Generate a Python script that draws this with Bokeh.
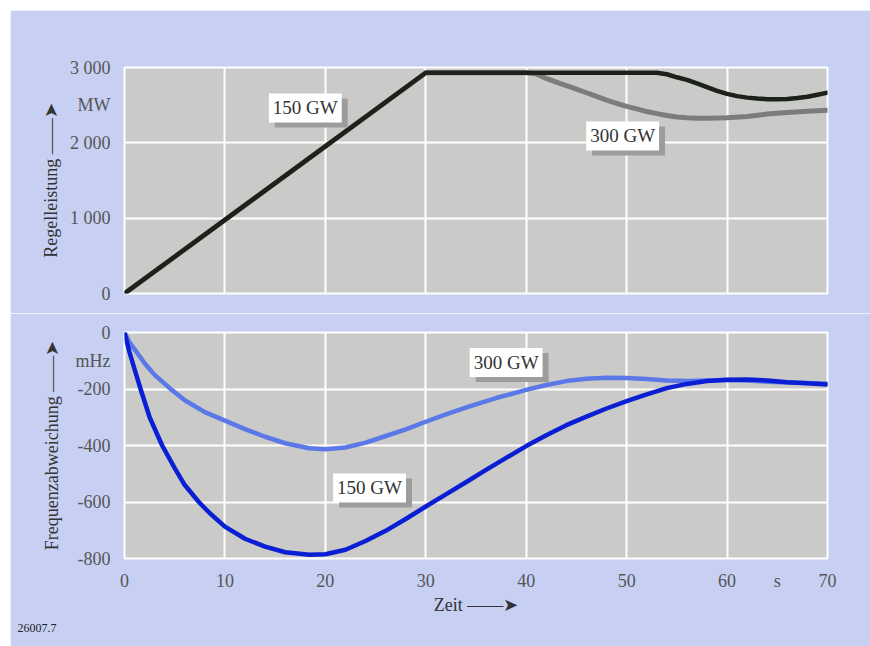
from bokeh.plotting import figure
from bokeh.models import Range1d, FixedTicker, Label, Spacer, Title
from bokeh.layouts import column, row
from bokeh.embed import file_html
from bokeh.resources import INLINE

# ---- data ----
t_p150 = [0, 30, 53, 54, 55, 56, 57, 58, 59, 60, 61, 62, 63, 64, 65, 66, 67, 68, 69, 70]
p_150 = [0, 2930, 2930, 2910, 2870, 2835, 2790, 2740, 2690, 2650, 2620, 2600, 2588, 2580,
         2578, 2582, 2595, 2612, 2638, 2666]
t_p300 = [0, 30, 40, 41, 42, 43, 44, 45, 46, 47, 48, 49, 50, 51, 52, 53, 54, 55, 56, 57, 58,
          59, 60, 62, 64, 66, 68, 70]
p_300 = [0, 2930, 2930, 2915, 2855, 2805, 2760, 2712, 2665, 2617, 2566, 2525, 2485, 2450,
         2415, 2388, 2362, 2342, 2332, 2327, 2326, 2328, 2333, 2350, 2382, 2402, 2420, 2433]

t_f150 = [0, 0.5, 1, 1.6, 2.5, 3.75, 5, 6, 7.4, 8.5, 10, 12, 14, 16, 18.4, 20, 22, 24, 26, 28,
          30, 32, 34, 36, 38, 40, 42, 44, 46, 48, 50, 52, 54, 56, 58, 60, 62, 64, 66, 68, 70]
f_150 = [0, -70, -130, -200, -300, -400, -480, -540, -600, -640, -687, -730, -758, -778, -787,
         -785, -769, -738, -702, -660, -616, -573, -530, -486, -444, -402, -364, -328, -298,
         -269, -243, -219, -197, -182, -172, -167, -166, -170, -176, -180, -184]
t_f300 = [0, 0.5, 1.1, 2, 3, 4.6, 6, 8, 10, 12, 14, 16, 18.4, 20, 22, 24, 25.8, 28, 30, 32,
          34.2, 37, 40, 42, 44, 46, 48, 50, 52, 54, 56, 58, 60, 62, 64, 67, 70]
f_300 = [0, -35, -64, -109, -150, -200, -240, -282, -312, -342, -369, -392, -410, -413, -407,
         -390, -369, -343, -316, -290, -263, -232, -203, -186, -172, -164, -160, -161, -165,
         -170, -172, -170, -168, -170, -174, -178, -181]

x_ticks = [0, 10, 20, 30, 40, 50, 60, 65, 70]
x_tick_labels = ["0", "10", "20", "30", "40", "50", "60", "s", "70"]
p_ticks = [0, 1000, 2000, 2500, 3000]
p_tick_labels = ["0", "1 000", "2 000", "MW", "3 000"]
f_ticks = [0, -100, -200, -400, -600, -800]
f_tick_labels = ["0", "mHz", "-200", "-400", "-600", "-800"]
grid_x = [0, 10, 20, 30, 40, 50, 60, 70]
grid_p = [0, 1000, 2000, 3000]
grid_f = [0, -200, -400, -600, -800]

# ---- style ----
FONT = "Liberation Serif"
BORDER = "#c7d0f3"
PLOTBG = "#cacac8"
TICKC = "#555555"
TEXTC = "#333333"
ARROW = " \u2014\u2014\u27a4"


def style(p, ylabel, ystandoff):
    p.yaxis.axis_label = ylabel
    p.yaxis.axis_label_text_font = FONT
    p.yaxis.axis_label_text_font_size = "18px"
    p.yaxis.axis_label_text_font_style = "normal"
    p.yaxis.axis_label_text_color = TEXTC
    p.yaxis.axis_label_standoff = ystandoff
    for ax in (p.xaxis[0], p.yaxis[0]):
        ax.axis_line_color = None
        ax.major_tick_line_color = None
        ax.minor_tick_line_color = None
        ax.major_tick_out = 0
        ax.major_tick_in = 0
        ax.minor_tick_out = 0
        ax.major_label_text_font = FONT
        ax.major_label_text_font_size = "18px"
        ax.major_label_text_color = TICKC
    p.yaxis.major_label_standoff = 14
    p.xgrid.ticker = FixedTicker(ticks=grid_x)
    for g in (p.xgrid[0], p.ygrid[0]):
        g.grid_line_color = "white"
        g.grid_line_width = 2
        g.grid_line_alpha = 1.0


def tag(p, x, y, text):
    shadow = Label(x=x, y=y, text=text, text_align="center", text_baseline="middle",
                   text_font=FONT, text_font_size="19px", text_color="#9c9c9c",
                   background_fill_color="#9c9c9c", x_offset=6, y_offset=-5, padding=4)
    box = Label(x=x, y=y, text=text, text_align="center", text_baseline="middle",
                text_font=FONT, text_font_size="19px", text_color=TEXTC,
                background_fill_color="white", padding=4)
    p.add_layout(shadow)
    p.add_layout(box)


# ---- top panel: Regelleistung ----
p1 = figure(width=860, height=303, x_range=Range1d(0, 70), y_range=Range1d(0, 3000),
            output_backend="svg", toolbar_location=None,
            min_border_left=114, min_border_right=43, min_border_top=57, min_border_bottom=20,
            background_fill_color=PLOTBG, border_fill_color=BORDER,
            outline_line_color="white", outline_line_width=2)
style(p1, "Regelleistung" + ARROW, 6)
p1.xaxis.visible = False
p1.yaxis.ticker = FixedTicker(ticks=p_ticks)
p1.yaxis.major_label_overrides = {k: v for k, v in zip(p_ticks, p_tick_labels)}
p1.ygrid.ticker = FixedTicker(ticks=grid_p)

p1.line(t_p300, p_300, line_color="#7c7c7c", line_width=5, line_cap="round", line_join="round")
p1.line(t_p150, p_150, line_color="#1c211c", line_width=4.5, line_cap="round", line_join="round")
tag(p1, 18.0, 2463, "150 GW")
tag(p1, 49.6, 2092, "300 GW")

# ---- bottom panel: Frequenzabweichung ----
p2 = figure(width=860, height=333, x_range=Range1d(0, 70), y_range=Range1d(-800, 0),
            output_backend="svg", toolbar_location=None,
            min_border_left=114, min_border_right=43, min_border_top=19, min_border_bottom=88,
            background_fill_color=PLOTBG, border_fill_color=BORDER,
            outline_line_color="white", outline_line_width=2)
style(p2, "Frequenzabweichung" + ARROW, 11)
p2.xaxis.ticker = FixedTicker(ticks=x_ticks)
p2.xaxis.major_label_overrides = {k: v for k, v in zip(x_ticks, x_tick_labels)}
p2.xaxis.major_label_standoff = 12
p2.xaxis.axis_label = "Zeit" + ARROW
p2.xaxis.axis_label_text_font = FONT
p2.xaxis.axis_label_text_font_size = "18px"
p2.xaxis.axis_label_text_font_style = "normal"
p2.xaxis.axis_label_text_color = TEXTC
p2.xaxis.axis_label_standoff = 1
p2.yaxis.ticker = FixedTicker(ticks=f_ticks)
p2.yaxis.major_label_overrides = {k: v for k, v in zip(f_ticks, f_tick_labels)}
p2.ygrid.ticker = FixedTicker(ticks=grid_f)

p2.line(t_f300, f_300, line_color="#5a78e8", line_width=4.5, line_cap="round", line_join="round")
p2.line(t_f150, f_150, line_color="#0a1fd4", line_width=4.5, line_cap="round", line_join="round")
tag(p2, 38.0, -106, "300 GW")
tag(p2, 24.4, -550, "150 GW")

p2.add_layout(Title(text="26007.7", align="left", offset=-107, standoff=8,
                    text_font=FONT, text_font_size="12px", text_font_style="normal",
                    text_color="#222222"), "below")

layout = column(Spacer(width=870, height=10),
                row(Spacer(width=10, height=636), column(p1, p2, spacing=0), spacing=0),
                spacing=0)
open("out.html", "w").write(file_html(layout, INLINE))
